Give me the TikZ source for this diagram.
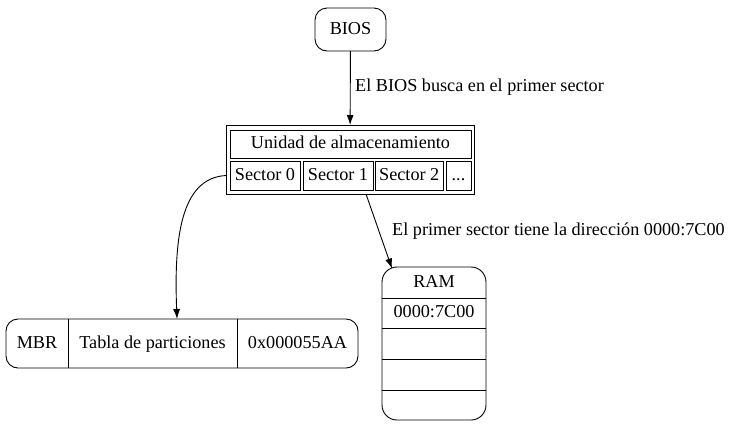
\documentclass[tikz,border=0pt]{standalone}
\usepackage{fontspec}
\setmainfont{Liberation Serif}
\usetikzlibrary{arrows.meta}
\begin{document}
\begin{tikzpicture}[x=1bp,y=-1bp,
  font=\fontsize{18.2bp}{22bp}\selectfont,
  every node/.style={text height=1.0em, text depth=0em},
  lw/.style={line width=0.9bp},
  cell/.style={draw, lw, inner sep=0, outer sep=0, anchor=north west},
  txt/.style={inner sep=0, outer sep=0, anchor=north west},
  lbl/.style={anchor=west, inner sep=0},
  arr/.style={-{Latex[length=10bp,width=7bp]}, lw}]
\useasboundingbox (0,0) rectangle (731,427);

% BIOS
\node[cell, rounded corners=12bp, minimum width=71bp, minimum height=43bp] (bios) at (315,8) {BIOS};

% storage table
\node[cell, minimum width=248bp, minimum height=69bp] (store) at (226,125) {};
\node[cell, minimum width=241bp, minimum height=28bp] (unid) at (230,130) {Unidad de almacenamiento};
\node[cell, minimum width=70bp, minimum height=29bp] (s0) at (230,161) {Sector 0};
\node[cell, minimum width=70bp, minimum height=29bp] (s1) at (303,161) {Sector 1};
\node[cell, minimum width=68.5bp, minimum height=29bp] (s2) at (375,161) {Sector 2};
\node[cell, minimum width=25bp, minimum height=29bp] (s3) at (446,161) {...};

% MBR record
\node[cell, rounded corners=12bp, minimum width=352bp, minimum height=49bp] (mbr) at (6,319) {};
\node[txt, minimum width=62bp, minimum height=49bp] (mA) at (6,319) {MBR};
\node[txt, minimum width=169bp, minimum height=49bp] (mB) at (68,319) {Tabla de particiones};
\node[txt, minimum width=121bp, minimum height=49bp] (mC) at (237,319) {0x000055AA};
\draw[lw] (mA.north east) -- (mA.south east);
\draw[lw] (mB.north east) -- (mB.south east);

% RAM record
\node[cell, rounded corners=15bp, minimum width=104bp, minimum height=153bp] (ram) at (382,267) {};
\node[txt, minimum width=104bp, minimum height=31bp] (r0) at (382,267) {RAM};
\node[txt, minimum width=104bp, minimum height=30bp] (r1) at (382,298) {0000:7C00};
\node[txt, minimum width=104bp, minimum height=31bp] (r2) at (382,328) {};
\node[txt, minimum width=104bp, minimum height=31bp] (r3) at (382,359) {};
\node[txt, minimum width=104bp, minimum height=30bp] (r4) at (382,390) {};
\foreach \r in {r0,r1,r2,r3} \draw[lw] (\r.south west) -- (\r.south east);

% edges
\draw[arr] (bios) -- (store);
\node[lbl] (l1) at (355,87) {El BIOS busca en el primer sector};

\draw[arr] (store.west |- s0.west) .. controls (180,178) and (174,240) .. ([xshift=24.5bp]mB.north);

\draw[arr] ([xshift=16bp]store.south) -- ([xshift=10bp,yshift=-1.5bp]ram.north west);
\node[lbl] (l2) at (392,231) {El primer sector tiene la dirección 0000:7C00};
\end{tikzpicture}
\end{document}
